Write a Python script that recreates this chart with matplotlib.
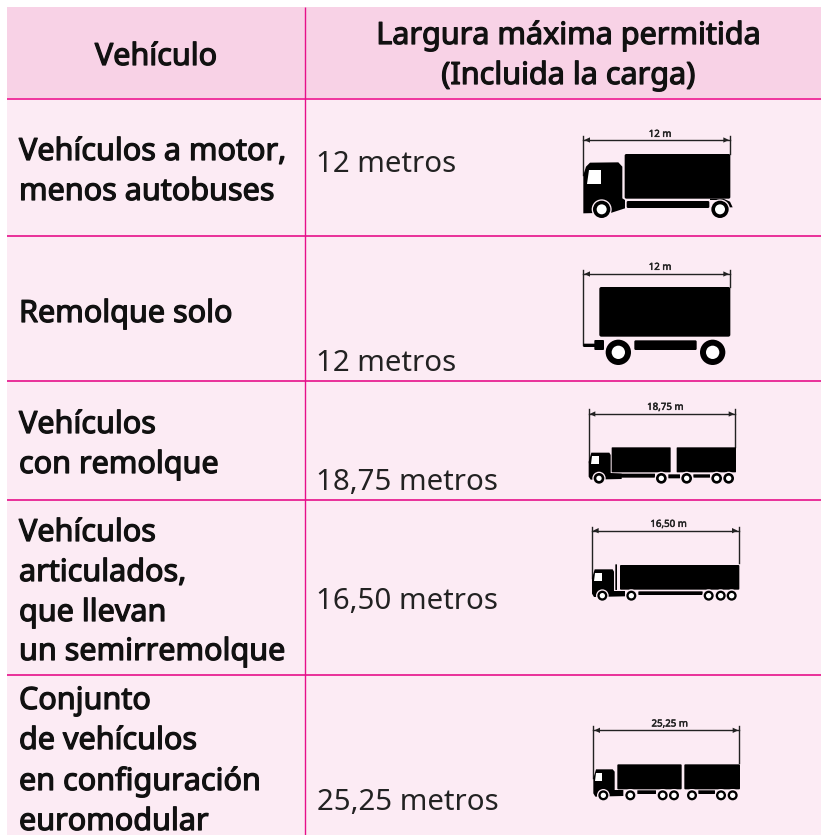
import matplotlib
matplotlib.use('Agg')
import matplotlib.pyplot as plt
import matplotlib.patheffects as pe
from matplotlib.patches import FancyBboxPatch, Circle, Polygon, Rectangle

DPI = 100
FONT = 'Noto Sans'
HEADER_BG = '#f8d2e6'
ROW_BG = '#fcebf4'
LINE = '#e6108a'
BOLD_SIZE = 22
REG_SIZE = 21.2

# Table text
headers = ['Vehículo', 'Largura máxima permitida', '(Incluida la carga)']
vehicle_lines = [
    ['Vehículos a motor,', 'menos autobuses'],
    ['Remolque solo'],
    ['Vehículos', 'con remolque'],
    ['Vehículos', 'articulados,', 'que llevan', 'un semirremolque'],
    ['Conjunto', 'de vehículos', 'en configuración', 'euromodular'],
]
vehicle_baselines = [
    [160, 200],
    [322],
    [433, 473],
    [541, 581, 621, 660],
    [709, 749, 790, 830],
]
widths = ['12 metros', '12 metros', '18,75 metros', '16,50 metros', '25,25 metros']
width_x = [316, 316, 316, 316, 317]
width_baselines = [172, 371, 490, 609, 810]
dim_labels = ['12 m', '12 m', '18,75 m', '16,50 m', '25,25 m']

row_lines = [98.5, 236, 381, 499.5, 675]

fig = plt.figure(figsize=(8.21, 8.35), dpi=DPI)
ax = fig.add_axes([0, 0, 1, 1])
ax.set_xlim(0, 821)
ax.set_ylim(835, 0)
ax.axis('off')

# Noto Sans only has the regular weight here, so thicken it with a stroke
heavy = [pe.withStroke(linewidth=0.9, foreground='#111111')]
small_heavy = [pe.withStroke(linewidth=0.35, foreground='#222222')]

# Backgrounds and rules
ax.add_patch(Rectangle((7, 7), 814, 91.5, fc=HEADER_BG, ec='none', zorder=0))
ax.add_patch(Rectangle((7, 98.5), 814, 736.5, fc=ROW_BG, ec='none', zorder=0))
for i, y in enumerate(row_lines):
    ax.plot([7, 821], [y, y], color='#f0359f' if i == 0 else LINE, lw=1.4 if i == 0 else 1.2, zorder=1, solid_capstyle='butt')
ax.plot([305, 305], [7, 835], color=LINE, lw=1.0, zorder=1, solid_capstyle='butt')

# Header
for x, y, label in zip([156, 568.5, 568.5], [65, 44, 84], headers):
    ax.text(x, y, label, ha='center', va='baseline', fontsize=BOLD_SIZE, family=FONT, color='#111111', path_effects=heavy)

# Rows
for lines, ys in zip(vehicle_lines, vehicle_baselines):
    for line, y in zip(lines, ys):
        ax.text(19, y, line, va='baseline', fontsize=BOLD_SIZE, family=FONT, color='#111111', path_effects=heavy)
for label, x, y in zip(widths, width_x, width_baselines):
    ax.text(x, y, label, va='baseline', fontsize=REG_SIZE, family=FONT, color='#222222')


# Pictogram helpers, coordinates are 3x crop pixels from an offset
def box(ox, oy, x0, y0, x1, y1, r=4):
    x0, x1 = ox + x0 / 3, ox + x1 / 3
    y0, y1 = oy + y0 / 3, oy + y1 / 3
    ax.add_patch(FancyBboxPatch((x0 + r / 3, y0 + r / 3), x1 - x0 - 2 * r / 3, y1 - y0 - 2 * r / 3,
                                boxstyle=f'round,pad={r / 3}', fc='black', ec='none', zorder=3))


def poly(ox, oy, pts, color='black', z=3):
    ax.add_patch(Polygon([(ox + a / 3, oy + b / 3) for a, b in pts], closed=True, fc=color, ec='none', zorder=z))


def wheel(ox, oy, cx, cy, ro, ri):
    c = (ox + cx / 3, oy + cy / 3)
    ax.add_patch(Circle(c, (ro + 4) / 3, fc=ROW_BG, ec='none', zorder=4))
    ax.add_patch(Circle(c, ro / 3, fc='black', ec='none', zorder=5))
    ax.add_patch(Circle(c, ri / 3, fc='white', ec='none', zorder=6))


def dimension(ox, oy, x0, x1, y, top, left_bottom, right_bottom, label, label_x, label_y):
    col = '#222222'
    ax.plot([ox + x0 / 3, ox + x1 / 3], [oy + y / 3] * 2, color=col, lw=1.0, zorder=3)
    ax.plot([ox + x0 / 3] * 2, [oy + top / 3, oy + left_bottom / 3], color=col, lw=1.0, zorder=3)
    ax.plot([ox + x1 / 3] * 2, [oy + top / 3, oy + right_bottom / 3], color=col, lw=1.0, zorder=3)
    poly(ox, oy, [(x0 + 3, y), (x0 + 20, y - 8), (x0 + 20, y + 8)], color=col)
    poly(ox, oy, [(x1 - 3, y), (x1 - 20, y - 8), (x1 - 20, y + 8)], color=col)
    ax.text(ox + label_x / 3, oy + label_y / 3, label, ha='center', va='center', fontsize=7,
            family=FONT, color=col, zorder=3, path_effects=small_heavy)


# Truck
ox, oy = 560, 120
dimension(ox, oy, 70, 510, 60, 47, 165, 102, dim_labels[0], 300, 43)
box(ox, oy, 194, 102, 511, 236, 5)
poly(ox, oy, [(70, 165), (78, 140), (90, 128), (175, 127), (187, 140), (187, 235), (195, 240), (195, 265),
              (155, 278), (70, 280)])
poly(ox, oy, [(88, 150), (122, 150), (122, 192), (82, 192)], color='white', z=4)
box(ox, oy, 200, 243, 448, 264, 4)
poly(ox, oy, [(450, 236), (490, 236), (510, 245), (518, 262), (508, 262), (498, 248), (480, 240), (450, 240)])
wheel(ox, oy, 125, 268, 26, 15)
wheel(ox, oy, 480, 268, 26, 15)

# Trailer
ox, oy = 560, 250
dimension(ox, oy, 70, 510, 72, 60, 285, 112, dim_labels[1], 300, 52)
box(ox, oy, 118, 111, 511, 260, 6)
box(ox, oy, 70, 281, 105, 291, 1)
box(ox, oy, 103, 270, 132, 300, 3)
box(ox, oy, 223, 271, 410, 300, 4)
wheel(ox, oy, 175, 307, 38, 20)
wheel(ox, oy, 458, 307, 38, 20)

# Truck and trailer
ox, oy = 570, 395
dimension(ox, oy, 56, 496, 57, 43, 200, 157, dim_labels[2], 286, 37)
box(ox, oy, 125, 157, 302, 232, 2)
box(ox, oy, 320, 157, 498, 232, 2)
poly(ox, oy, [(56, 200), (64, 173), (118, 173), (122, 180), (122, 234), (155, 236), (155, 252), (62, 254), (56, 245)])
poly(ox, oy, [(66, 184), (86, 184), (86, 208), (62, 208)], color='white', z=4)
box(ox, oy, 125, 236, 255, 248, 1)
box(ox, oy, 295, 238, 330, 250, 1)
box(ox, oy, 370, 238, 420, 248, 1)
for cx in [87, 274, 350, 440, 476]:
    wheel(ox, oy, cx, 250, 16, 8)

# Articulated
ox, oy = 570, 515
dimension(ox, oy, 66, 506, 47, 35, 190, 145, dim_labels[3], 296, 28)
box(ox, oy, 150, 150, 508, 224, 3)
box(ox, oy, 136, 148, 141, 225, 1)
poly(ox, oy, [(66, 190), (74, 163), (128, 163), (132, 170), (132, 228), (165, 228), (165, 244), (72, 246), (66, 236)])
poly(ox, oy, [(76, 175), (95, 175), (95, 199), (72, 199)], color='white', z=4)
box(ox, oy, 205, 229, 398, 240, 2)
for cx in [97, 184, 416, 452, 485]:
    wheel(ox, oy, cx, 242, 15, 8)

# Euromodular
ox, oy = 570, 710
dimension(ox, oy, 70, 508, 61, 48, 205, 160, dim_labels[4], 299, 42)
box(ox, oy, 142, 163, 335, 238, 3)
box(ox, oy, 343, 163, 510, 238, 3)
poly(ox, oy, [(70, 205), (78, 178), (128, 178), (134, 185), (134, 240), (160, 240), (160, 258), (76, 260), (70, 250)])
poly(ox, oy, [(78, 188), (97, 188), (97, 213), (74, 213)], color='white', z=4)
box(ox, oy, 202, 241, 258, 252, 1)
box(ox, oy, 385, 241, 435, 252, 1)
for cx in [100, 181, 278, 312, 366, 453, 488]:
    wheel(ox, oy, cx, 256, 15, 8)

fig.savefig('out.png', dpi=DPI, facecolor='white')
